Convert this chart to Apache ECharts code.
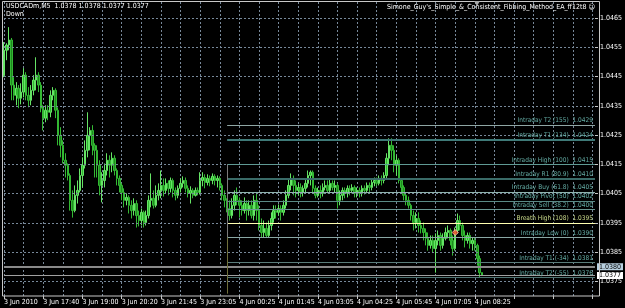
<!DOCTYPE html>
<html><head><meta charset="utf-8">
<script src="https://cdn.jsdelivr.net/npm/echarts@6/dist/echarts.min.js"></script>
<style>html,body{margin:0;padding:0;background:#000}#c{width:625px;height:308px}</style>
</head><body><div id="c"></div>
<script>
// ---------- data ----------
const symbolName = 'USDCADm,M5';
const lastBarText = ['1.0378', '1.0378', '1.0377', '1.0377'];
const trendText = 'Down';
const eaName = "Simone_Guy's_Simple_&_Consistent_Fibbing_Method_EA_ff12t8";
const tickLabels = ['3 Jun 2010', '3 Jun 17:40', '3 Jun 19:00', '3 Jun 20:20', '3 Jun 21:45', '3 Jun 23:05',
  '4 Jun 00:25', '4 Jun 01:45', '4 Jun 03:05', '4 Jun 04:25', '4 Jun 05:45', '4 Jun 07:05', '4 Jun 08:25'];
const barsPerLabel = 16;
const slotCount = 242;               // bars + empty chart-shift space
const priceTicks = [1.0375, 1.0385, 1.0395, 1.0405, 1.0415, 1.0425, 1.0435, 1.0445, 1.0455, 1.0465];
// [open, close, low, high]
const candles = [
[1.04455,1.04540,1.04448,1.04568],[1.04540,1.04558,1.04506,1.04564],[1.04558,1.04575,1.04540,1.04619],[1.04575,1.04421,1.04369,1.04582],
[1.04421,1.04386,1.04369,1.04448],[1.04386,1.04410,1.04352,1.04431],[1.04410,1.04376,1.04342,1.04421],[1.04376,1.04397,1.04355,1.04427],
[1.04397,1.04455,1.04379,1.04479],[1.04455,1.04386,1.04369,1.04465],[1.04386,1.04369,1.04345,1.04414],[1.04369,1.04403,1.04352,1.04421],
[1.04403,1.04438,1.04386,1.04455],[1.04438,1.04455,1.04403,1.04516],[1.04455,1.04421,1.04397,1.04465],[1.04421,1.04342,1.04328,1.04431],
[1.04342,1.04308,1.04266,1.04352],[1.04308,1.04335,1.04294,1.04352],[1.04335,1.04328,1.04301,1.04352],[1.04328,1.04386,1.04311,1.04403],
[1.04386,1.04403,1.04369,1.04414],[1.04403,1.04335,1.04308,1.04410],[1.04335,1.04249,1.04215,1.04345],[1.04249,1.04215,1.04174,1.04277],
[1.04215,1.04164,1.04153,1.04232],[1.04164,1.04147,1.04105,1.04188],[1.04147,1.04112,1.04095,1.04153],[1.04112,1.04027,1.03992,1.04119],
[1.04027,1.03992,1.03968,1.04061],[1.03992,1.04044,1.03986,1.04078],[1.04044,1.04061,1.04016,1.04095],[1.04061,1.04112,1.04054,1.04136],
[1.04112,1.04147,1.04071,1.04174],[1.04147,1.04198,1.04136,1.04232],[1.04198,1.04249,1.04174,1.04328],[1.04249,1.04266,1.04198,1.04277],
[1.04266,1.04215,1.04181,1.04284],[1.04215,1.04198,1.04105,1.04222],[1.04198,1.04147,1.04105,1.04215],[1.04147,1.04078,1.04044,1.04164],
[1.04078,1.04095,1.04020,1.04123],[1.04095,1.04129,1.04071,1.04153],[1.04129,1.04164,1.04112,1.04188],[1.04164,1.04147,1.04105,1.04181],
[1.04147,1.04171,1.04123,1.04191],[1.04171,1.04129,1.04112,1.04181],[1.04129,1.04102,1.04078,1.04136],[1.04102,1.04078,1.04054,1.04112],
[1.04078,1.04054,1.04027,1.04085],[1.04054,1.04027,1.04003,1.04068],[1.04027,1.04037,1.04010,1.04051],[1.04037,1.04010,1.03982,1.04044],
[1.04010,1.03992,1.03965,1.04027],[1.03992,1.04016,1.03975,1.04034],[1.04016,1.03975,1.03934,1.04027],[1.03975,1.03958,1.03938,1.03992],
[1.03958,1.03986,1.03941,1.03999],[1.03986,1.03951,1.03934,1.03992],[1.03951,1.03975,1.03941,1.03992],[1.03975,1.04027,1.03965,1.04044],
[1.04027,1.04034,1.04003,1.04119],[1.04034,1.04010,1.03999,1.04061],[1.04010,1.04044,1.04003,1.04078],[1.04044,1.04061,1.04027,1.04085],
[1.04061,1.04078,1.04034,1.04129],[1.04078,1.04061,1.04040,1.04102],[1.04061,1.04085,1.04051,1.04102],[1.04085,1.04068,1.04044,1.04095],
[1.04068,1.04095,1.04054,1.04105],[1.04095,1.04061,1.04037,1.04102],[1.04061,1.04044,1.04027,1.04071],[1.04044,1.04068,1.04034,1.04078],
[1.04068,1.04085,1.04054,1.04102],[1.04085,1.04095,1.04071,1.04109],[1.04095,1.04068,1.04054,1.04105],[1.04068,1.04051,1.04037,1.04078],
[1.04051,1.04061,1.04016,1.04075],[1.04061,1.04044,1.04034,1.04068],[1.04044,1.04061,1.04040,1.04071],[1.04061,1.04054,1.04044,1.04071],
[1.04054,1.04095,1.04047,1.04123],[1.04095,1.04105,1.04075,1.04123],[1.04105,1.04088,1.04068,1.04116],[1.04088,1.04102,1.04078,1.04116],
[1.04102,1.04095,1.04075,1.04112],[1.04095,1.04109,1.04082,1.04119],[1.04109,1.04095,1.04078,1.04116],[1.04095,1.04102,1.04071,1.04112],
[1.04102,1.04078,1.04061,1.04109],[1.04078,1.04044,1.04027,1.04085],[1.04044,1.04027,1.04003,1.04061],[1.04027,1.03999,1.03986,1.04034],
[1.03999,1.03975,1.03958,1.04027],[1.03975,1.04010,1.03965,1.04034],[1.04010,1.04044,1.03992,1.04061],[1.04044,1.04027,1.04010,1.04071],
[1.04027,1.04010,1.03968,1.04037],[1.04010,1.03992,1.03975,1.04027],[1.03992,1.04016,1.03982,1.04037],[1.04016,1.03992,1.03958,1.04027],
[1.03992,1.04010,1.03975,1.04027],[1.04010,1.03975,1.03965,1.04027],[1.03975,1.04027,1.03958,1.04044],[1.04027,1.03992,1.03958,1.04051],
[1.03992,1.03941,1.03924,1.04010],[1.03941,1.03917,1.03900,1.03965],[1.03917,1.03931,1.03900,1.03958],[1.03931,1.03907,1.03900,1.03951],
[1.03907,1.03941,1.03900,1.03958],[1.03941,1.03965,1.03924,1.03986],[1.03965,1.03992,1.03951,1.04010],[1.03992,1.03986,1.03965,1.04010],
[1.03986,1.03999,1.03975,1.04013],[1.03999,1.03986,1.03958,1.04010],[1.03986,1.04010,1.03975,1.04027],[1.04010,1.04044,1.03999,1.04061],
[1.04044,1.04078,1.04034,1.04102],[1.04078,1.04102,1.04061,1.04119],[1.04102,1.04078,1.04044,1.04112],[1.04078,1.04061,1.04037,1.04095],
[1.04061,1.04071,1.04044,1.04085],[1.04071,1.04054,1.04037,1.04085],[1.04054,1.04068,1.04040,1.04078],[1.04068,1.04085,1.04054,1.04102],
[1.04085,1.04112,1.04071,1.04129],[1.04112,1.04123,1.04078,1.04129],[1.04123,1.04068,1.04054,1.04129],[1.04068,1.04044,1.04034,1.04078],
[1.04044,1.04061,1.04037,1.04071],[1.04061,1.04051,1.04034,1.04078],[1.04051,1.04071,1.04040,1.04085],[1.04071,1.04078,1.04061,1.04095],
[1.04078,1.04061,1.04051,1.04095],[1.04061,1.04085,1.04054,1.04102],[1.04085,1.04071,1.04061,1.04095],[1.04071,1.04078,1.04054,1.04095],
[1.04078,1.04027,1.03999,1.04085],[1.04027,1.04044,1.04010,1.04061],[1.04044,1.04061,1.04027,1.04071],[1.04061,1.04051,1.04034,1.04071],
[1.04051,1.04068,1.04037,1.04078],[1.04068,1.04061,1.04044,1.04078],[1.04061,1.04071,1.04051,1.04082],[1.04071,1.04051,1.04037,1.04078],
[1.04051,1.04061,1.04037,1.04071],[1.04061,1.04051,1.04037,1.04071],[1.04051,1.04068,1.04040,1.04078],[1.04068,1.04061,1.04047,1.04078],
[1.04061,1.04078,1.04051,1.04088],[1.04078,1.04071,1.04054,1.04088],[1.04071,1.04088,1.04061,1.04102],[1.04088,1.04095,1.04075,1.04105],
[1.04095,1.04085,1.04075,1.04105],[1.04085,1.04102,1.04078,1.04112],[1.04102,1.04095,1.04078,1.04112],[1.04095,1.04112,1.04085,1.04123],
[1.04112,1.04171,1.04102,1.04188],[1.04171,1.04215,1.04147,1.04239],[1.04215,1.04198,1.04164,1.04239],[1.04198,1.04147,1.04123,1.04215],
[1.04147,1.04164,1.04112,1.04181],[1.04164,1.04095,1.04085,1.04171],[1.04095,1.04071,1.04051,1.04102],[1.04071,1.04044,1.04027,1.04078],
[1.04044,1.04027,1.04010,1.04054],[1.04027,1.04010,1.03999,1.04040],[1.04010,1.03975,1.03958,1.04016],[1.03975,1.03951,1.03924,1.03992],
[1.03951,1.03965,1.03931,1.03986],[1.03965,1.03941,1.03917,1.03986],[1.03941,1.03931,1.03914,1.03958],[1.03931,1.03917,1.03890,1.03951],
[1.03917,1.03897,1.03873,1.03931],[1.03897,1.03873,1.03855,1.03917],[1.03873,1.03890,1.03862,1.03907],[1.03890,1.03862,1.03849,1.03907],
[1.03862,1.03890,1.03780,1.03914],[1.03890,1.03907,1.03873,1.03924],[1.03907,1.03873,1.03855,1.03917],[1.03873,1.03897,1.03862,1.03914],
[1.03897,1.03917,1.03890,1.03934],[1.03917,1.03924,1.03897,1.03941],[1.03924,1.03890,1.03873,1.03931],[1.03890,1.03862,1.03838,1.03907],
[1.03862,1.03924,1.03855,1.03934],[1.03924,1.03958,1.03914,1.03982],[1.03958,1.03941,1.03924,1.03975],[1.03941,1.03907,1.03890,1.03951],
[1.03907,1.03890,1.03866,1.03924],[1.03890,1.03907,1.03879,1.03917],[1.03907,1.03879,1.03862,1.03917],[1.03879,1.03890,1.03855,1.03900],
[1.03890,1.03873,1.03855,1.03900],[1.03873,1.03828,1.03804,1.03879],[1.03828,1.03780,1.03763,1.03838],[1.0378,1.0377,1.0377,1.0378]
];
const fibNames = ['Intraday T2 (155)', 'Intraday T1 (134)', 'Intraday High (100)', 'Intraday R1 (80.9)', 'Intraday Buy (61.8)',
  'Intraday Pivot (50)', 'Intraday Sell (38.2)', 'Breath High (108)', 'Intraday Low (0)', 'Intraday T1 (-34)', 'Intraday T2 (-55)'];
const fibLevels = [1.04285, 1.04235, 1.0415, 1.04102, 1.04055, 1.04025, 1.03996, 1.0395, 1.0390, 1.03815, 1.03763];
const fibValueText = ['1.0429', '1.0424', '1.0415', '1.0410', '1.0405', '1.0402', '1.0400', '1.0395', '1.0390', '1.0381', '1.0376'];
const fibStartBar = 91;   // 4 Jun 00:00
const askPrice = 1.0380;
const bidPrice = 1.0377;
const orderMark = [184, 1.03917];

// ---------- styles ----------
const fibLineColors = ['#8fa6a4', '#3f7a78', '#5f9a94', '#3a6b68', '#8fb3ae', '#5a8a85', '#6a9893', '#ffffb0', '#8aa8a5', '#5a7c7a', '#4f7472'];
const fibLineWidths = [1, 2, 1, 2, 1, 1, 1, 1, 1, 1, 1];
const fibTextColors = ['#62aaa2', '#62aaa2', '#62aaa2', '#62aaa2', '#62aaa2', '#62aaa2', '#62aaa2', '#c8d88a', '#62aaa2', '#62aaa2', '#62aaa2'];
const FONT = "'Liberation Sans Narrow','DejaVu Sans Condensed',sans-serif";
const gridColor = '#778899';

const categories = Array.from({ length: slotCount }, (_, i) => String(i));
const lastSlot = slotCount - 1;
const noLabel = { show: false };

const mlData = [];
priceTicks.forEach(v => mlData.push([
  { coord: [0, v], label: noLabel, lineStyle: { color: gridColor, type: [2, 2], width: 1 } },
  { coord: [lastSlot, v] }
]));
mlData.push([
  { coord: [0, askPrice], lineStyle: { color: '#8a8a8a', width: 2, type: 'solid' },
    label: { show: true, position: 'end', distance: 2, formatter: askPrice.toFixed(4), color: '#000', backgroundColor: '#b8d0e0',
      padding: [0, 2], fontSize: 7, fontFamily: FONT } },
  { coord: [lastSlot, askPrice] }
]);
mlData.push([
  { coord: [0, bidPrice], lineStyle: { color: '#a0a0a0', width: 1, type: 'solid' },
    label: { show: true, position: 'end', distance: 2, formatter: bidPrice.toFixed(4), color: '#000', backgroundColor: '#ffffff',
      padding: [0, 2], fontSize: 7, fontFamily: FONT } },
  { coord: [lastSlot, bidPrice] }
]);
fibLevels.forEach((lv, k) => {
  mlData.push([
    { coord: [fibStartBar, lv], lineStyle: { color: fibLineColors[k], width: fibLineWidths[k], type: 'solid' },
      label: { show: true, position: 'insideEndTop', distance: [2, 1], formatter: fibNames[k] + '  ' + fibValueText[k],
        color: fibTextColors[k], fontSize: 6.5, fontFamily: FONT } },
    { coord: [lastSlot, lv] }
  ]);
});
mlData.push([{ coord: [fibStartBar, fibLevels[2]], label: noLabel, lineStyle: { color: '#7a7a7a', width: 1, type: 'solid' } },
             { coord: [fibStartBar, fibLevels[8]] }]);
mlData.push([{ coord: [fibStartBar, fibLevels[8]], label: noLabel, lineStyle: { color: '#6f6f3a', width: 1, type: 'solid' } },
             { coord: [fibStartBar, 1.03708] }]);

const chart = echarts.init(document.getElementById('c'), null, { renderer: 'canvas' });
chart.setOption({
  backgroundColor: '#000',
  animation: false,
  grid: { left: 4, right: 27, top: 2, bottom: 12, show: false },
  xAxis: {
    type: 'category', data: categories, boundaryGap: false,
    axisLine: { show: false },
    axisTick: { show: true, interval: barsPerLabel - 1, length: 3, lineStyle: { color: '#c8c8c8' } },
    axisLabel: { interval: barsPerLabel - 1, align: 'left', margin: 3, color: '#ffffff', fontSize: 7, fontFamily: FONT,
      formatter: (v, idx) => tickLabels[idx / barsPerLabel] || '' },
    splitLine: { show: true, interval: barsPerLabel / 2 - 1, lineStyle: { color: gridColor, type: [2, 2], width: 1 } }
  },
  yAxis: {
    type: 'value', position: 'right', min: 1.0370, max: 1.04705, scale: true,
    axisLine: { show: false },
    splitLine: { show: false },
    axisTick: { show: true, length: 3, customValues: priceTicks, lineStyle: { color: '#c8c8c8' } },
    axisLabel: { customValues: priceTicks, margin: 5, color: '#ffffff', fontSize: 7, fontFamily: FONT,
      formatter: v => v.toFixed(4) }
  },
  series: [
    {
      type: 'candlestick', data: candles, barWidth: 2,
      itemStyle: { color: '#2fb82f', color0: '#1f8a1f', borderColor: '#66e466', borderColor0: '#33b833', borderWidth: 1 },
      markLine: { silent: true, symbol: ['none', 'none'], animation: false, data: mlData }
    },
    {
      type: 'scatter', data: [orderMark], symbol: 'diamond', symbolSize: 6,
      itemStyle: { color: '#ff4a2a', borderColor: '#ffd0c0', borderWidth: 1 }, silent: true, z: 5
    }
  ],
  graphic: [
    { type: 'rect', silent: true, z: 100, shape: { x: 2.5, y: 1.5, width: 597, height: 294.5 },
      style: { fill: 'none', stroke: '#c8c8c8', lineWidth: 1 } },
    { type: 'text', silent: true, z: 100, left: 6, top: 3,
      style: { text: symbolName + '  ' + lastBarText.join(' '), fill: '#ffffff', font: '7px ' + FONT } },
    { type: 'text', silent: true, z: 100, left: 6, top: 11,
      style: { text: trendText, fill: '#ffffff', font: '7px ' + FONT } },
    { type: 'text', silent: true, z: 100, right: 30, top: 4,
      style: { text: eaName + ' \u263A', fill: '#ffffff', font: '7px ' + FONT } },
    { type: 'polygon', silent: true, z: 100, shape: { points: [[474, 1], [480, 1], [477, 6]] }, style: { fill: '#a8a8a8' } }
  ]
});
</script>
</body></html>
